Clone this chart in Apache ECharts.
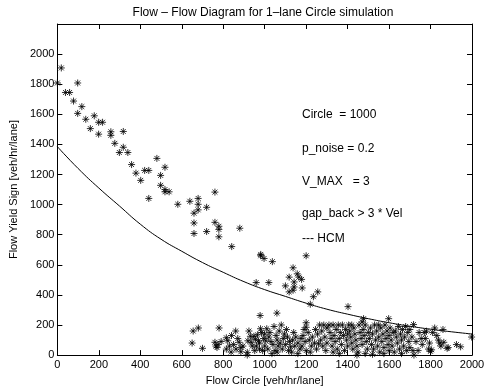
<!DOCTYPE html>
<html><head><meta charset="utf-8">
<script src="https://cdn.jsdelivr.net/npm/echarts@6/dist/echarts.min.js"></script>
<style>html,body{margin:0;padding:0;background:#fff}#c{width:488px;height:391px}</style>
</head><body><div id="c"></div>
<script>
// HCM capacity curve
const hcmX = [0,100,200,300,400,500,600,700,800,900,1000,1100,1200,1300,1400,1500,1600,1700,1800,1900,2000];
const hcmY = [1385,1240,1110,990,870,770,690,615,550,488,435,390,345,305,272,242,215,192,172,155,140];

// simulation points: upper branch
const upperPoints = [[0,1808],[19,1908],[98,1808],[39,1745],[59,1745],[78,1688],[118,1651],[98,1606],[137,1567],[178,1590],[199,1547],[218,1547],[159,1505],[199,1468],[258,1484],[258,1460],[318,1486],[277,1407],[318,1381],[299,1346],[340,1346],[480,1307],[358,1266],[379,1209],[421,1227],[441,1227],[519,1248],[498,1194],[402,1161],[498,1128],[519,1100],[539,1085],[519,1085],[441,1041],[581,1002],[639,1022],[679,1041],[679,1002],[679,965],[720,982],[760,1083],[659,943],[659,878],[659,808],[760,882],[779,856],[779,835],[720,821],[880,843],[779,786],[841,721],[981,669],[981,660],[997,642],[1037,621],[1200,660],[1137,580],[1118,518],[1157,540],[1165,518],[1178,503],[1142,486],[1100,460],[1142,453],[1118,420],[1137,431],[1181,446],[959,482],[1020,482],[1256,420],[1235,388],[1220,338],[978,263],[1059,279],[1402,322],[1477,242],[1598,242],[1718,203],[1780,159],[1998,120]];

// simulation points: congested lower cluster
const lowerPoints = [[655,160],[680,180],[650,80],[700,45],
[760,85],[775,70],[765,60],[780,180],[790,90],[770,50],
[815,115],[822,95],[830,60],[815,40],[838,20],[860,160],[877,85],[885,50],[862,40],[885,22],[850,70],[840,130],[870,110],[895,60],
[916,18],[916,0],[924,160],[931,125],[919,95],[935,85],[948,125],[955,105],[965,135],[975,80],[960,60],[975,40],[952,30],[990,30],[980,175],[985,150],[995,110],[940,60],[970,95],[1000,60],[1000,140],
[1010,175],[1020,120],[1030,90],[1040,70],[1015,40],[1025,150],[1045,190],[1055,130],[1060,100],[1065,60],[1050,30],[1070,160],[1080,200],[1090,110],[1095,140],[1075,80],[1085,40],[1035,10],[1060,20],[1100,70],[1005,95],
[1105,170],[1110,120],[1120,90],[1125,55],[1115,30],[1135,100],[1140,150],[1150,120],[1160,80],[1145,60],[1170,40],[1175,110],[1185,130],[1190,170],[1195,90],[1180,60],[1200,215],[1200,185],[1200,30],[1160,10],[1130,20],
[1210,150],[1215,100],[1225,60],[1230,120],[1240,80],[1250,40],[1255,140],[1265,200],[1270,100],[1275,160],[1280,60],[1285,200],[1290,120],[1295,30],[1260,75],[1245,170],[1220,20],[1300,80],[1300,180],
[1310,200],[1315,150],[1320,110],[1325,60],[1330,200],[1335,130],[1340,90],[1345,170],[1350,40],[1355,200],[1360,110],[1365,150],[1370,70],[1375,200],[1380,130],[1385,30],[1390,170],[1395,100],[1400,60],[1405,200],[1330,20],[1360,10],[1400,140],
[1410,160],[1415,120],[1420,80],[1425,40],[1430,180],[1435,140],[1440,100],[1445,60],[1450,20],[1455,200],[1460,150],[1465,110],[1470,70],[1475,170],[1480,130],[1485,200],[1490,90],[1495,40],[1500,150],[1445,0],[1470,220],[1485,10],[1420,200],
[1505,110],[1510,180],[1515,70],[1520,140],[1525,40],[1530,200],[1535,100],[1540,160],[1545,60],[1550,120],[1555,20],[1560,180],[1565,90],[1570,140],[1575,50],[1580,200],[1585,110],[1590,160],[1595,70],[1600,30],[1600,130],[1550,200],[1520,5],[1575,10],
[1605,180],[1610,100],[1615,60],[1620,150],[1625,20],[1630,160],[1635,120],[1640,80],[1645,190],[1650,40],[1655,140],[1660,100],[1665,170],[1670,60],[1675,120],[1680,190],[1685,30],[1690,150],[1695,90],[1700,50],[1700,170],[1660,10],
[1710,120],[1715,30],[1720,0],[1730,90],[1740,30],[1745,150],[1755,110],[1760,70],[1770,150],[1775,110],[1790,40],[1800,25],[1805,35],[1795,80],
[1830,130],[1838,100],[1845,80],[1850,60],[1860,170],[1864,85],[1880,45],[1885,50],[1925,70],[1945,55],[1820,180],[1810,150]];

const yTicks = [0,200,400,600,800,1000,1200,1400,1600,1800,2000];
const notes = ['Circle  = 1000','p_noise = 0.2','V_MAX   = 3','gap_back > 3 * Vel','--- HCM'];
const noteY = [116,150,183,215,240];

const FONT = 'Liberation Sans, Arial, Helvetica, sans-serif';
const star = 'path://M0 5 L10 5 M5 0 L5 10 M1.5 1.5 L8.5 8.5 M8.5 1.5 L1.5 8.5';
const chart = echarts.init(document.getElementById('c'), null, {renderer:'canvas'});
const axisCommon = {
  min:0, interval:200, splitLine:{show:false},
  axisLine:{show:true, onZero:false, lineStyle:{color:'#000', width:1}},
  axisTick:{show:true, inside:true, length:5, lineStyle:{color:'#000'}},
};
chart.setOption({
  animation:false,
  backgroundColor:'#fff',
  title:{text:'Flow \u2013 Flow Diagram for 1\u2013lane Circle simulation', left:258, textAlign:'center', top:2,
    textStyle:{fontFamily:FONT, fontSize:12, fontWeight:'normal', color:'#000'}},
  grid:{left:44, right:16, top:24, bottom:30},
  xAxis:[
    Object.assign({type:'value', max:2000, position:'bottom', name:'Flow Circle [veh/hr/lane]', nameLocation:'middle', nameGap:17,
      nameTextStyle:{fontFamily:FONT, fontSize:11, color:'#000'},
      axisLabel:{fontFamily:FONT, fontSize:11, color:'#000', margin:4, formatter:v => String(v)}}, axisCommon),
    Object.assign({type:'value', max:2000, position:'top', axisLabel:{show:false}}, axisCommon)
  ],
  yAxis:[
    Object.assign({type:'value', max:2200, position:'left', name:'Flow Yield Sign [veh/hr/lane]', nameLocation:'middle', nameGap:34,
      nameTextStyle:{fontFamily:FONT, fontSize:11, color:'#000'},
      axisLabel:{fontFamily:FONT, fontSize:11, color:'#000', margin:3,
        formatter:v => yTicks.indexOf(v) >= 0 ? String(v) : ''}}, axisCommon),
    Object.assign({type:'value', max:2200, position:'right', axisLabel:{show:false}}, axisCommon)
  ],
  graphic: notes.map((t,i)=>({type:'text', left:302, top:noteY[i]-7,
    style:{text:t, font:'12px '+FONT, fill:'#000'}})),
  series:[
    {type:'line', data:hcmX.map((x,i)=>[x,hcmY[i]]), smooth:true, symbol:'none',
      lineStyle:{color:'#000', width:1}, z:3},
    {type:'scatter', data:upperPoints, symbol:star, symbolSize:7,
      itemStyle:{color:'rgba(0,0,0,0)', borderColor:'#000', borderWidth:1}},
    {type:'scatter', data:lowerPoints, symbol:star, symbolSize:7,
      itemStyle:{color:'rgba(0,0,0,0)', borderColor:'#000', borderWidth:1}}
  ]
});
</script></body></html>
